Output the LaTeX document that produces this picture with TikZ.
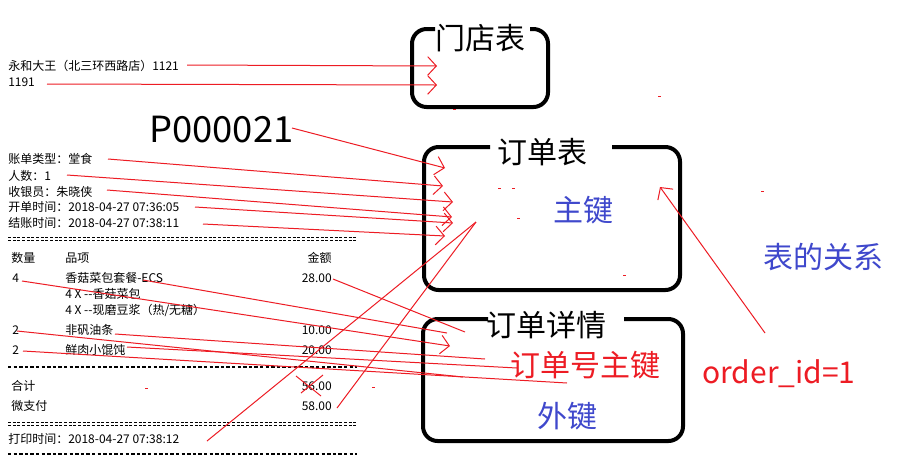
\documentclass[tikz,border=0pt]{standalone}
\usepackage{fontspec}
\newfontfamily\cjk{Noto Sans CJK SC}
\usetikzlibrary{arrows.meta}
\definecolor{pred}{RGB}{237,28,36}
\definecolor{pblue}{RGB}{63,72,204}
\begin{document}
\begin{tikzpicture}[x=0.75pt,y=-0.75pt,
  rt/.style={font=\cjk\fontsize{9}{10}\selectfont, anchor=base west, inner sep=0pt},
  ramt/.style={rt, anchor=base east},
  ttl/.style={font=\cjk\fontsize{22.5}{26}\selectfont, anchor=base, inner sep=0pt},
  tbox/.style={line width=3pt, rounded corners=11pt},
  rl/.style={draw=pred, line width=0.75pt},
  ra/.style={rl, -{Straight Barb[length=6.5pt,width=14pt]}},
  dd/.style={line width=0.75pt, double=white, double distance=1.5pt, dash pattern=on 2.2pt off 1.3pt},
  ds/.style={line width=2pt, dash pattern=on 2.6pt off 1.6pt},
  dot/.style={draw=pred, line width=0.75pt}]
\path[use as bounding box, fill=white] (0,0) rectangle (906,462);

% receipt
\node[rt] (shop) at (8,70) {永和大王（北三环西路店）1121};
\node[rt] (num) at (8,86) {1191};
\node[font=\cjk\fontsize{27}{30}\selectfont, anchor=base west, inner sep=0pt] (pid) at (149,142) {\scalebox{1.01}[1]{P000021}};
\node[rt] (t1) at (8,163.5) {账单类型：堂食};
\node[rt] (t2) at (8,180.5) {人数：1};
\node[rt] (t3) at (8,196.5) {收银员：朱晓侠};
\node[rt] (t4) at (8,211.5) {开单时间：2018-04-27 07:36:05};
\node[rt] (t5) at (8,227.5) {结账时间：2018-04-27 07:38:11};

\coordinate (d1a) at (8,238.5); \coordinate (d1b) at (357,238.5);
\draw[dd] (d1a) -- (d1b);

\node[rt] (hq) at (11,262.5) {数量};
\node[rt] (hi) at (65,262.5) {品项};
\node[ramt] (ha) at (332,262.5) {金额};

\node[rt] (q1) at (12,282.5) {4};
\node[rt] (i1) at (65,282.5) {香菇菜包套餐-ECS};
\node[ramt] (a1) at (332,282.5) {28.00};
\node[rt] (i1a) at (65,298.5) {4 X --香菇菜包};
\node[rt] (i1b) at (65,314.5) {4 X --现磨豆浆（热/无糖）};
\node[rt] (q2) at (12,334.5) {2};
\node[rt] (i2) at (65,334.5) {非矾油条};
\node[ramt] (a2) at (332,334.5) {10.00};
\node[rt] (q3) at (12,354.5) {2};
\node[rt] (i3) at (65,354.5) {鲜肉小馄饨};
\node[ramt] (a3) at (332,354.5) {20.00};

\coordinate (d2a) at (8,367); \coordinate (d2b) at (357,367);
\draw[ds] (d2a) -- (d2b);

\node[rt] (sum) at (11,390.5) {合计};
\node[ramt] (sumv) at (332,390.5) {56.00};
\node[rt] (pay) at (11,410.5) {微支付};
\node[ramt] (payv) at (332,410.5) {58.00};

\coordinate (d3a) at (8,423.5); \coordinate (d3b) at (357,423.5);
\draw[dd] (d3a) -- (d3b);
\node[rt] (pt) at (8,443.5) {打印时间：2018-04-27 07:38:12};
\coordinate (d4a) at (8,454); \coordinate (d4b) at (357,454);
\draw[ds] (d4a) -- (d4b);

% tables
\draw[tbox] (435,29) -- (412,29) -- (412,107) -- (548,107) -- (548,29) -- (530,29);
\node[ttl] (tstore) at (480,49) {门店表};
\draw[tbox] (490,147) -- (424,147) -- (424,290) -- (680,290) -- (680,147) -- (612,147);
\node[ttl] (torder) at (542,163) {订单表};
\node[ttl, text=pblue] (pk) at (583,221) {主键};
\draw[tbox] (488,319) -- (423,319) -- (423,441) -- (683,441) -- (683,319) -- (624,319);
\node[ttl] (tdetail) at (546,336) {订单详情};
\node[ttl, text=pred] (dpk) at (585,376) {订单号主键};
\node[ttl, text=pblue] (fk) at (567,427) {外键};
\node[ttl, text=pblue] (rel) at (823,268) {表的关系};
\node[ttl, text=pred, anchor=base west] (oid) at (702,383) {order\_id=1};

% connector ends
\coordinate (s1) at (187,65);  \coordinate (e1) at (437,66);
\coordinate (s2) at (47,84);   \coordinate (e2) at (437,85);
\coordinate (sP) at (292,128); \coordinate (eP) at (445,168);
\coordinate (s3) at (108,159); \coordinate (e3) at (443,186);
\coordinate (s4) at (67,175);  \coordinate (e4) at (453,202);
\coordinate (s5) at (107,190); \coordinate (e5) at (452,217);
\coordinate (s6) at (195,207); \coordinate (e6) at (453,223);
\coordinate (s7) at (203,224); \coordinate (e7) at (445,236);
\coordinate (s8) at (333,279); \coordinate (e8) at (465,332);
\coordinate (s9) at (143,280); \coordinate (e9) at (447,333);
\coordinate (s10) at (22,281); \coordinate (e10) at (450,346);
\coordinate (s11) at (17,331); \coordinate (e11) at (463,377);
\coordinate (s12) at (115,334); \coordinate (e12) at (485,359);
\coordinate (s13) at (127,347); \coordinate (e13) at (517,368);
\coordinate (s14) at (23,351); \coordinate (e14) at (567,383);
\coordinate (s15) at (207,441); \coordinate (s16) at (337,408); \coordinate (e15) at (476,222);
\coordinate (s17) at (765,333); \coordinate (e17) at (660,187);

\draw[ra] (s1) -- (e1);
\draw[ra] (s2) -- (e2);
\draw[ra] (sP) -- (eP);
\draw[ra] (s3) -- (e3);
\draw[ra] (s4) -- (e4);
\draw[ra] (s5) -- (e5);
\draw[ra] (s6) -- (e6);
\draw[ra] (s7) -- (e7);
\draw[rl] (s8) -- (e8);
\draw[rl] (s9) -- (e9);
\draw[ra] (s10) -- (e10);
\draw[rl] (s11) -- (e11);
\draw[rl] (s12) -- (e12);
\draw[rl] (s13) -- (e13);
\draw[rl] (s14) -- (e14);
\draw[rl] (s15) -- (e15);
\draw[rl] (s16) -- (e15);
\draw[ra] (s17) -- (e17);

% cross on 56.00
\coordinate (x1) at (296,376); \coordinate (x2) at (321,396);
\coordinate (x3) at (323,375); \coordinate (x4) at (301,393);
\draw[rl] (x1) -- (x2);
\draw[rl] (x3) -- (x4);

% stray marks
\foreach \px/\py in {453/109, 658/96, 761/191, 623/275, 517/218, 498/188, 512/188, 145/388, 372/387}
  \draw[dot] (\px,\py) -- ++(2.5,0);
\end{tikzpicture}
\end{document}
